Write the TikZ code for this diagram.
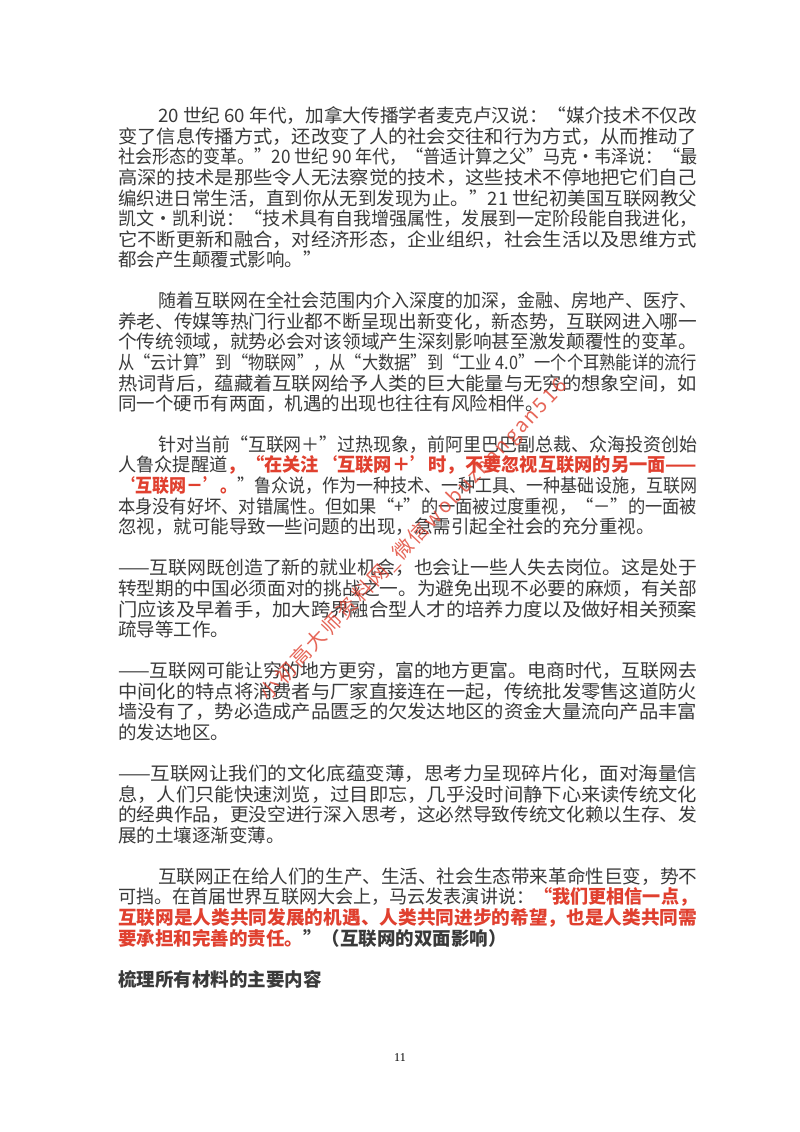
\documentclass[tikz,border=0pt]{standalone}
\usepackage{fontspec}
\usepackage{graphicx}
\setmainfont{Noto Sans CJK SC}
\newfontfamily\numfont{Liberation Serif}
\definecolor{txt}{HTML}{3A3A3A}
\definecolor{rd}{HTML}{E0402F}
\newcommand{\R}[1]{{\bfseries\color{rd}#1}}
\begin{document}
\begin{tikzpicture}[x=1pt,y=-1pt,
  ln/.style={anchor=west,inner sep=0pt,text=txt,font=\fontsize{18.5pt}{18.5pt}\selectfont}]
\fill[white] (0,0) rectangle (800,1132);
\useasboundingbox (0,0) rectangle (800,1132);
\def\sp{20.55}
\def\top{116}
\newcommand{\Lx}[3]{\node[ln] (l#1) at (#2,{\top+#1*\sp}) {\resizebox{\dimexpr 697pt-#2pt\relax}{\height}{#3}};}
\newcommand{\Lz}[3]{\node[ln] (l#1) at (#2,{\top+#1*\sp}) {#3};}
\Lx{0}{158}{20 世纪 60 年代，加拿大传播学者麦克卢汉说：“媒介技术不仅改}
\Lx{1}{118}{变了信息传播方式，还改变了人的社会交往和行为方式，从而推动了}
\Lx{2}{118}{社会形态的变革。”20 世纪 90 年代，“普适计算之父”马克·韦泽说：“最}
\Lx{3}{118}{高深的技术是那些令人无法察觉的技术，这些技术不停地把它们自己}
\Lx{4}{118}{编织进日常生活，直到你从无到发现为止。”21 世纪初美国互联网教父}
\Lx{5}{118}{凯文·凯利说：“技术具有自我增强属性，发展到一定阶段能自我进化，}
\Lx{6}{118}{它不断更新和融合，对经济形态，企业组织，社会生活以及思维方式}
\Lz{7}{118}{都会产生颠覆式影响。”}
\Lx{9}{158}{随着互联网在全社会范围内介入深度的加深，金融、房地产、医疗、}
\Lx{10}{118}{养老、传媒等热门行业都不断呈现出新变化，新态势，互联网进入哪一}
\Lx{11}{118}{个传统领域，就势必会对该领域产生深刻影响甚至激发颠覆性的变革。}
\Lx{12}{118}{从“云计算”到“物联网”，从“大数据”到“工业 4.0”一个个耳熟能详的流行}
\Lx{13}{118}{热词背后，蕴藏着互联网给予人类的巨大能量与无穷的想象空间，如}
\Lz{14}{118}{同一个硬币有两面，机遇的出现也往往有风险相伴。}
\Lx{16}{158}{针对当前“互联网＋”过热现象，前阿里巴巴副总裁、众海投资创始}
\Lx{17}{118}{人鲁众提醒道\R{，“在关注‘互联网＋’时，不要忽视互联网的另一面——}}
\Lx{18}{118}{\R{‘互联网－’。}”鲁众说，作为一种技术、一种工具、一种基础设施，互联网}
\Lx{19}{118}{本身没有好坏、对错属性。但如果“+”的一面被过度重视，“－”的一面被}
\Lz{20}{118}{忽视，就可能导致一些问题的出现，急需引起全社会的充分重视。}
\Lx{22}{118}{——互联网既创造了新的就业机会，也会让一些人失去岗位。这是处于}
\Lx{23}{118}{转型期的中国必须面对的挑战之一。为避免出现不必要的麻烦，有关部}
\Lx{24}{118}{门应该及早着手，加大跨界融合型人才的培养力度以及做好相关预案}
\Lz{25}{118}{疏导等工作。}
\Lx{27}{118}{——互联网可能让穷的地方更穷，富的地方更富。电商时代，互联网去}
\Lx{28}{118}{中间化的特点将消费者与厂家直接连在一起，传统批发零售这道防火}
\Lx{29}{118}{墙没有了，势必造成产品匮乏的欠发达地区的资金大量流向产品丰富}
\Lz{30}{118}{的发达地区。}
\Lx{32}{118}{——互联网让我们的文化底蕴变薄，思考力呈现碎片化，面对海量信}
\Lx{33}{118}{息，人们只能快速浏览，过目即忘，几乎没时间静下心来读传统文化}
\Lx{34}{118}{的经典作品，更没空进行深入思考，这必然导致传统文化赖以生存、发}
\Lz{35}{118}{展的土壤逐渐变薄。}
\Lx{37}{158}{互联网正在给人们的生产、生活、社会生态带来革命性巨变，势不}
\Lx{38}{118}{可挡。在首届世界互联网大会上，马云发表演讲说：\R{“我们更相信一点，}}
\Lx{39}{118}{\R{互联网是人类共同发展的机遇、人类共同进步的希望，也是人类共同需}}
\Lz{40}{118}{\R{要承担和完善的责任。}\bfseries ”（互联网的双面影响）}
\Lz{42}{118}{\bfseries 梳理所有材料的主要内容}
\node[inner sep=0pt,text=black,font=\numfont\fontsize{12pt}{12pt}\selectfont] (pg) at (400,1058) {11};
\node[inner sep=0pt,text=rd,opacity=0.8,rotate=46.4,font=\fontsize{20pt}{20pt}\selectfont\addfontfeature{LetterSpace=12}] (wm) at (414,540) {小初高大师资料网\_微信wobuzhangan516};
\end{tikzpicture}
\end{document}
